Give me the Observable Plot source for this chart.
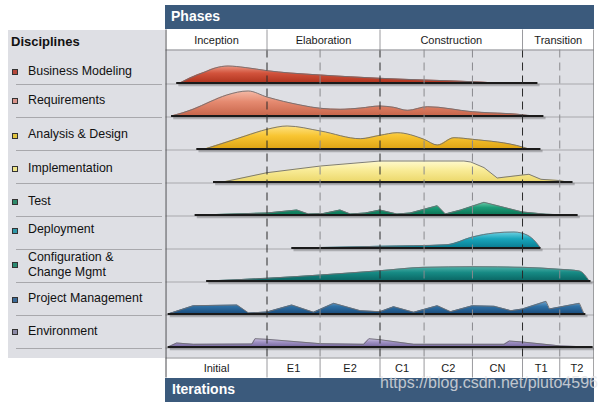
<!DOCTYPE html>
<html><head><meta charset="utf-8">
<script src="https://cdn.jsdelivr.net/npm/d3@7"></script>
<script src="https://cdn.jsdelivr.net/npm/@observablehq/plot@0.6"></script>
<style>
body{margin:0;width:606px;height:403px;background:#fff;font-family:"Liberation Sans",Arial,sans-serif;position:relative;overflow:hidden}
.abs{position:absolute;white-space:nowrap}
.bar{background:#3b5a7c;color:#fff;font-weight:bold;font-size:14px}
.lab{font-size:12.4px;line-height:15px;color:#111;white-space:pre}
.sq{width:6px;height:6px;box-sizing:border-box;border:1px solid #333}
.sep{height:1px;background:#a8a8ac}
</style></head><body>
<div class="abs bar" style="left:165px;top:5px;width:429px;height:24px"></div>
<div class="abs bar" style="left:165px;top:378px;width:429px;height:24px"></div>
<div class="abs" style="left:171px;top:8px;color:#fff;font-weight:bold;font-size:14px;line-height:16px">Phases</div>
<div class="abs" style="left:172px;top:381px;color:#fff;font-weight:bold;font-size:14px;line-height:16px">Iterations</div>
<div class="abs" style="left:8px;top:30px;width:157px;height:328px;background:#dedfe4"></div>
<div class="abs" style="left:11px;top:34px;font-weight:bold;font-size:13px;line-height:15px;color:#111">Disciplines</div>
<div id="labels"></div>
<div id="chart" class="abs" style="left:165px;top:29px"></div>
<div class="abs" style="left:380px;top:374px;font-size:16px;line-height:17px;color:rgba(228,228,230,0.8)">https://blog.csdn.net/pluto4596</div>
<script>
// ---- data ----
const disciplines = ["Business Modeling","Requirements","Analysis & Design","Implementation","Test","Deployment","Configuration &\nChange Mgmt","Project Management","Environment"];
const phases = ["Inception","Elaboration","Construction","Transition"];
const phaseEnds = [23.6, 50.0, 83.3, 100];           // % of project timeline
const iterations = ["Initial","E1","E2","C1","C2","CN","T1","T2"];
const iterationEnds = [23.6, 36.0, 50.0, 60.3, 71.6, 83.3, 92.0, 100];

// effort profiles: [time %, effort]
const businessModeling = [[3.3,0],[5.6,5],[9.1,11],[11.5,15],[14.5,17],[18.5,15.5],[23.7,12.3],[29.0,10],[36.1,8],[43.1,6.2],[49.9,4.7],[60.2,3],[71.7,1.3],[77.0,0]];
const requirements = [[1.3,0],[6.3,6.7],[10.3,14.3],[14.2,21],[19.2,25],[23.6,19],[31.4,11],[36.1,7.7],[40.7,6.7],[45.5,8],[50.0,10],[53.2,8.7],[56.4,5.7],[61.1,9.3],[71.6,4.3],[83.3,1.3],[85.9,0]];
const analysisDesign = [[9.1,0],[14.2,7],[18.5,13],[23.6,19.7],[28.3,23],[36.1,18],[45.4,10.3],[50.0,13.7],[54.0,16.3],[60.3,9.7],[63.4,4],[67.3,11.3],[71.6,9.7],[83.3,2],[84.8,0]];
const implementation = [[13.3,0],[23.6,9.3],[36.1,16],[50.0,21],[69.6,21],[71.2,20],[74.3,14.4],[77.4,4],[83.3,7],[84.8,7.7],[87.6,2.7],[91.8,1.5],[93.7,0]];
const test = [[8.0,0],[23.6,2],[30.6,5],[33.3,1],[36.8,1.5],[40.7,5],[43.1,1],[46.6,2],[50.0,5],[54.0,1],[57.1,2],[63.4,9.3],[65.3,1],[68.9,5],[74.3,12.7],[83.3,3],[88.8,0.8],[93.7,0]];
const deployment = [[29.4,0],[50.0,1.7],[65.7,3.3],[71.6,11],[76.7,15],[81.3,16],[84.5,12.7],[86.4,6],[87.5,0]];
const configuration = [[9.5,0],[23.6,2.7],[36.1,6],[50.0,10.3],[60.3,13.7],[71.6,14.3],[83.3,13.7],[92.0,11.7],[96.6,10],[98.9,0]];
const projectManagement = [[0.5,0],[6.4,8.3],[16.6,9],[19.3,1],[23.6,2],[29.4,9],[34.5,1.7],[39.2,10.7],[45.4,3.3],[50.0,2.3],[53.2,7.3],[57.9,1.7],[63.4,8.3],[66.5,2.3],[71.6,8.3],[76.7,7.7],[80.6,3.3],[83.3,5],[88.8,12.7],[89.6,5],[96.6,10.7],[97.7,0]];
const environment = [[0.5,0],[2.5,4],[6.4,2.7],[20.1,3],[20.8,8.3],[23.6,7.7],[36.1,3.3],[46.2,2.7],[47.4,8.3],[50.0,7.3],[57.9,2.7],[79.0,2.7],[80.2,6],[83.3,5],[92.3,1],[99.3,0]];
const spanStart = [2.5, 1.3, 7.2, 11.1, 6.8, 29.4, 9.5, 0.5, 0.5];
const spanEnd = [86.9, 88.3, 87.6, 95.1, 96.3, 87.6, 99.3, 98.1, 99.8];

// ---- styles / layout ----
const palette = [
  ["#ec9a86","#d2533c","#b0341f"],
  ["#f5bba8","#e58a70","#c8664b"],
  ["#fde385","#f8c532","#dfa515"],
  ["#fffad0","#f9ec98","#ecd86c"],
  ["#70ccaa","#1d9c78","#0b7556"],
  ["#74d4e4","#19a6bc","#0a7d92"],
  ["#52b4ab","#168a84","#0a6664"],
  ["#74a9d2","#2f70a4","#1a4d7e"],
  ["#d0c4e6","#a092c4","#7a6ba2"]
];
const squareColors = ["#b5473a","#d9938a","#e0c440","#efe58a","#2d8a6a","#2e98a8","#2a8a72","#3a6a98","#8c8aa6"];
const smooth = [true,true,true,false,false,true,true,false,false];
const profiles = [businessModeling, requirements, analysisDesign, implementation, test, deployment, configuration, projectManagement, environment];
const labelBaselines = [76,105,139,173,206,234,262,303,336];
const squareCenters = [72,101,136,169,202,231,265,300,332];
const rowGap = 33, firstLine = 34;
const lineY = i => firstLine + rowGap*i;
const base = i => lineY(i) - 1;

// left panel labels
const lab = document.getElementById("labels");
disciplines.forEach((d,i) => {
  const t = document.createElement("div");
  t.className = "abs lab"; t.textContent = d;
  t.style.left = "28px"; t.style.top = (labelBaselines[i]-11.8)+"px";
  lab.appendChild(t);
  const s = document.createElement("div");
  s.className = "abs sq"; s.style.background = squareColors[i];
  s.style.left = "12px"; s.style.top = (squareCenters[i]-3)+"px";
  lab.appendChild(s);
  const l = document.createElement("div");
  l.className = "abs sep"; l.style.left = "16px"; l.style.width = "146px";
  l.style.top = (50 + lineY(i))+"px";
  lab.appendChild(l);
});

const phaseStarts = [0, ...phaseEnds.slice(0,-1)];
const iterStarts = [0, ...iterationEnds.slice(0,-1)];
const iterOnly = iterationEnds.filter(v => !phaseEnds.includes(v));

const marks = [
  Plot.rect([0], {x1:0, x2:100, y1:0, y2:308, fill:"#dedfe4"}),
  Plot.ruleY(disciplines, {y:(d,i)=>lineY(i), x1:0, x2:100, stroke:"#a8a8ac", strokeWidth:1})
];
profiles.forEach((p,i) => {
  const rows = p.map(([x,h]) => ({x, y1: base(i), y2: base(i) - h}));
  const curve = smooth[i] ? "monotone-x" : "linear";
  marks.push(Plot.ruleY([0], {y: base(i)+2, x1: spanStart[i]+0.5, x2: spanEnd[i]+0.5, stroke:"#000", strokeOpacity:0.22, strokeWidth:2.5}));
  marks.push(Plot.areaY(rows, {x:"x", y1:"y1", y2:"y2", fill:`url(#hg${i})`, curve}));
  marks.push(Plot.line(rows, {x:"x", y:"y2", stroke:"#6e6e72", strokeWidth:0.9, curve}));
  marks.push(Plot.ruleY([0], {y: base(i), x1: spanStart[i], x2: spanEnd[i], stroke:"#1a1a1a", strokeWidth:2}));
});
marks.push(
  Plot.ruleX(iterOnly, {y1:0, y2:308, stroke:"#8a8a8e", strokeDasharray:"8,5"}),
  Plot.ruleX(phaseEnds.slice(0,-1), {y1:0, y2:308, stroke:"#2a2a2a", strokeDasharray:"8,5"}),
  Plot.ruleY([0, 308], {x1:0, x2:100, stroke:"#8e8e92"}),
  Plot.ruleX(phaseEnds.slice(0,-1), {y1:-20, y2:0, stroke:"#9a9a9e"}),
  Plot.ruleX(iterationEnds.slice(0,-1), {y1:308, y2:328, stroke:"#9a9a9e"}),
  Plot.ruleX([0, 100], {y1:-20, y2:328, stroke:"#4a4a4e"}),
  Plot.text(phases, {x:(d,i)=>(phaseStarts[i]+phaseEnds[i])/2, y:-10, text:d=>d, fill:"#1a1a1a", fontSize:11}),
  Plot.text(iterations, {x:(d,i)=>(iterStarts[i]+iterationEnds[i])/2, y:318, text:d=>d, fill:"#1a1a1a", fontSize:11})
);

const svg = Plot.plot({
  width:429, height:349,
  marginLeft:0.5, marginRight:0.5, marginTop:20.5, marginBottom:20.5,
  x:{domain:[0,100], axis:null},
  y:{domain:[0,308], reverse:true, axis:null},
  style:{background:"transparent", fontFamily:"'Liberation Sans', Arial, sans-serif", fontSize:"11px"},
  marks
});
const defs = d3.select(svg).insert("defs", ":first-child");
palette.forEach((c,i) => {
  const g = defs.append("linearGradient").attr("id", `hg${i}`).attr("x1",0).attr("y1",0).attr("x2",0).attr("y2",1);
  g.append("stop").attr("offset","0").attr("stop-color", c[0]);
  g.append("stop").attr("offset","0.45").attr("stop-color", c[1]);
  g.append("stop").attr("offset","1").attr("stop-color", c[2]);
});
document.getElementById("chart").appendChild(svg);
</script>
</body></html>
